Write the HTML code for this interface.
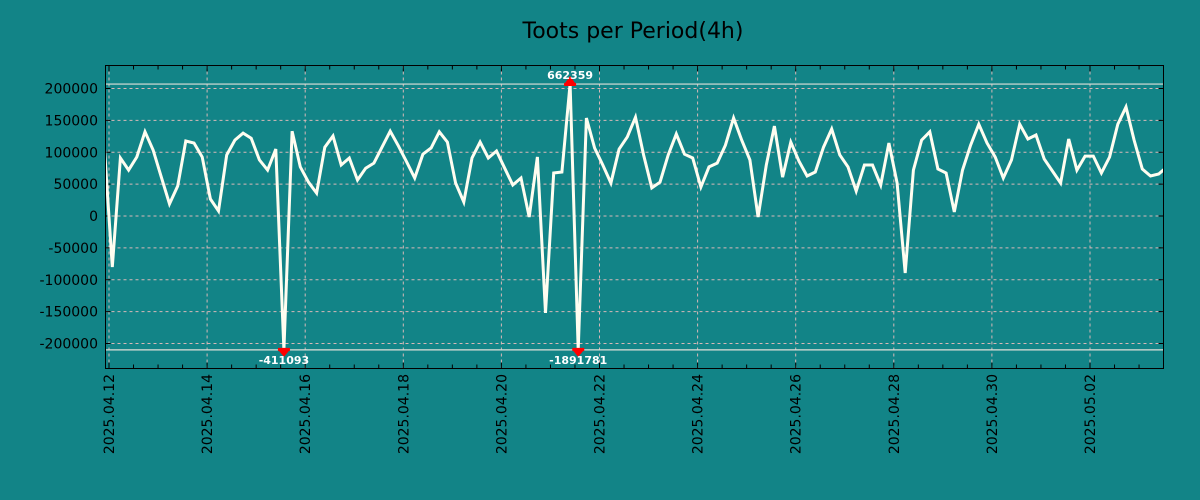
<!DOCTYPE html>
<html><head><meta charset="utf-8"><style>
html,body{margin:0;padding:0;background:#128487;}
svg{display:block;font-family:"DejaVu Sans","Liberation Sans",sans-serif;}
</style></head><body>
<svg id="chart" width="1200" height="500" xmlns="http://www.w3.org/2000/svg">
<rect x="0" y="0" width="1200" height="500" fill="#128487"/>
<text x="633" y="38" font-size="22" fill="#000" text-anchor="middle">Toots per Period(4h)</text>
<g id="grid"></g>
<g id="axes"></g>
<g id="series"></g>
<rect x="105.5" y="65.5" width="1058" height="303" fill="none" stroke="#000" stroke-width="1"/>
</svg>
<script>
const values = [114500,-80000,91000,72000,92500,132000,103500,61000,19000,47000,117600,114500,92500,26700,7800,95700,119000,130000,122000,88000,72000,105000,-411093,133000,77000,53000,36000,108000,125500,80000,91000,56500,75000,83000,108000,133000,110000,85000,59600,97000,106700,132000,116000,51800,22000,91000,116000,91000,102000,75000,48600,59600,-1600,92500,-152000,67500,69000,662359,-1891781,153700,106700,80000,51800,105000,124000,155000,95700,44000,53000,95700,128600,97000,91000,45500,77000,83000,111000,153700,119000,88000,-1600,80000,141000,61000,116000,86000,62700,69000,108000,136500,95700,77000,39000,80000,80000,48600,114500,51800,-89400,72000,119000,132000,73700,67500,6300,72000,111000,144000,114500,92500,59600,88000,144000,120800,127000,89400,70600,51800,120800,72000,94000,94000,67500,92500,144000,171000,119000,73700,62700,65900,76900];
const yTicks = [200000,150000,100000,50000,0,-50000,-100000,-150000,-200000];
const xTickLabels = ["2025.04.12","2025.04.14","2025.04.16","2025.04.18","2025.04.20","2025.04.22","2025.04.24","2025.04.26","2025.04.28","2025.04.30","2025.05.02"];
const clipMax = 207000, clipMin = -210000;

const NS="http://www.w3.org/2000/svg";
const L=105.5,R=1163.5,T=65.5,B=368.5;
const y=v=>216-v*127.5/200000;
const dayX=d=>109+d*49.05;
const ix=i=>dayX((i-0.6)/6);
function mk(tag,attrs,parent){const e=document.createElementNS(NS,tag);for(const k in attrs)e.setAttribute(k,attrs[k]);parent.appendChild(e);return e;}
const grid=document.getElementById('grid'),axes=document.getElementById('axes'),series=document.getElementById('series');

yTicks.forEach(v=>{
  const g=mk('line',{x1:L,x2:R,y1:y(v),y2:y(v),stroke:'#d8b8b8','stroke-width':1,'stroke-dasharray':'3,3'},grid);
  
  
  const t1=mk('line',{x1:L,x2:L+5,y1:y(v),y2:y(v),stroke:'#000'},axes);
  
  
  const t2=mk('line',{x1:R-5,x2:R,y1:y(v),y2:y(v),stroke:'#000'},axes);
  
  
  const tx=mk('text',{x:98,y:y(v)+5,'font-size':14,'text-anchor':'end',fill:'#000'},axes);
  tx.textContent=String(v);
  
  
});
for(let h=0;h<=43;h++){
  const x=dayX(h/2); if(x>R) break;
  const len=(h%4===0)?6:4;
  const a=mk('line',{x1:x,x2:x,y1:T,y2:T+len,stroke:'#000'},axes);
  
  
  const b=mk('line',{x1:x,x2:x,y1:B-len,y2:B,stroke:'#000'},axes);
  
  
}
xTickLabels.forEach((lab,k)=>{
  const x=dayX(k*2);
  const g=mk('line',{x1:x,x2:x,y1:T,y2:B,stroke:'#d8b8b8','stroke-width':1,'stroke-dasharray':'3,3'},grid);
  
  
  const t=mk('text',{x:0,y:0,'font-size':14,'text-anchor':'end',fill:'#000',transform:`translate(${x+5},374) rotate(-90)`},axes);
  t.textContent=lab;
  
  
});
// max/min lines
const maxV=Math.max(...values),minV=Math.min(...values);
[[clipMax,'max-line'],[clipMin,'min-line']].forEach(([v,n])=>{
  const l=mk('line',{x1:L,x2:R,y1:y(v),y2:y(v),stroke:'#e0e0d8','stroke-width':1.2},series);
  
  
});
const cl=v=>Math.max(clipMin,Math.min(clipMax,v));
const pts=values.map((v,i)=>ix(i).toFixed(1)+','+y(cl(v)).toFixed(1)).join(' ');
mk('clipPath',{id:'pc'},series).appendChild(Object.assign(document.createElementNS(NS,'rect'),{}));
document.querySelector('#pc rect').setAttribute('x',L);
document.querySelector('#pc rect').setAttribute('y',T);
document.querySelector('#pc rect').setAttribute('width',R-L);
document.querySelector('#pc rect').setAttribute('height',B-T);
const line=mk('polyline',{points:pts,fill:'none',stroke:'#fffdf0','stroke-width':3,'stroke-linejoin':'miter','clip-path':'url(#pc)'},series);


// markers
values.forEach((v,i)=>{
  if(v>clipMax){
    const x=ix(i),yy=y(clipMax);
    const m=mk('path',{d:`M${x-6},${yy+2} h12 v-3 h-12z M${x-5},${yy-1} L${x},${yy-8} L${x+5},${yy-1}z`,fill:'#f00'},series);
    
    
    const t=mk('text',{x:x,y:yy-5,'font-size':11,'font-weight':'bold','text-anchor':'middle',fill:'#fff'},series);
    t.textContent=String(v);
    
    
  } else if(v<clipMin){
    const x=ix(i),yy=y(clipMin);
    const m=mk('path',{d:`M${x-6},${yy-2} h12 v3 h-12z M${x-5},${yy+1} L${x},${yy+7} L${x+5},${yy+1}z`,fill:'#f00'},series);
    
    
    const t=mk('text',{x:x,y:yy+14,'font-size':11,'font-weight':'bold','text-anchor':'middle',fill:'#fff'},series);
    t.textContent=String(v);
    
    
  }
});
</script>
</body></html>
